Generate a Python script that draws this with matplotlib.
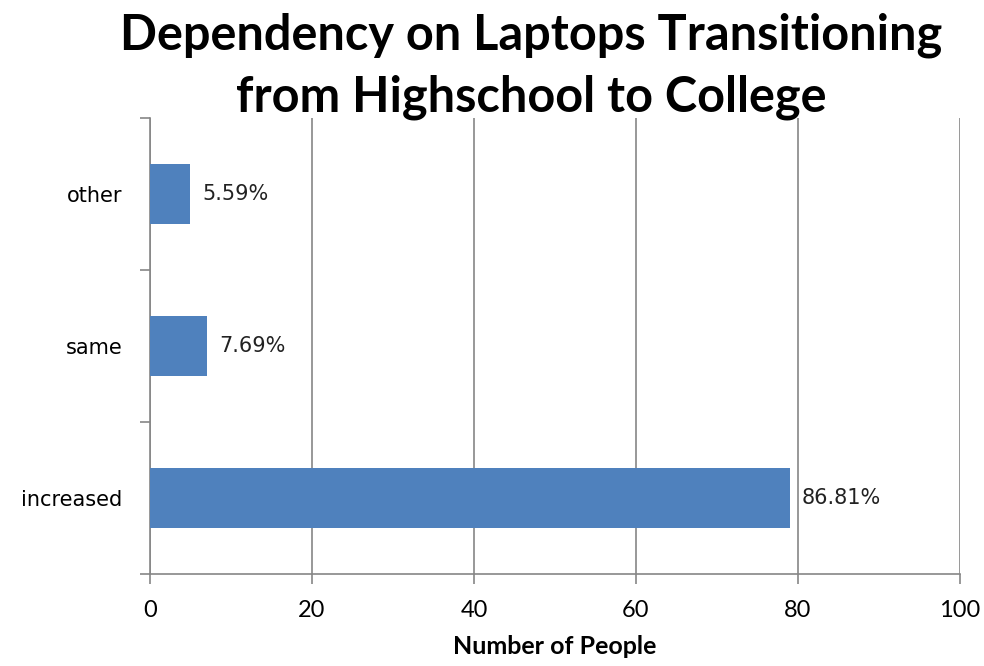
import matplotlib.pyplot as plt

categories = ['increased', 'same', 'other']
counts = [79, 7, 5]
pct_labels = ['86.81%', '7.69%', '5.59%']
x_ticks = [0, 20, 40, 60, 80, 100]
title_lines = ['Dependency on Laptops Transitioning', 'from Highschool to College']

fig = plt.figure(figsize=(9.84, 6.66), dpi=100)
ax = fig.add_axes([0.1524, 0.1381, 0.8232, 0.6847])

pos = list(range(len(categories)))
ax.barh(pos, counts, height=0.4, color='#4F81BD', zorder=3)

for y, v, lab in zip(pos, counts, pct_labels):
    ax.text(v + 1.5, y, lab, va='center', ha='left', fontsize=15,
            family='DejaVu Sans', color='#222222')

ax.set_xlim(0, 100)
ax.set_ylim(-0.5, 2.5)
ax.set_xticks(x_ticks)
ax.set_xticklabels([str(t) for t in x_ticks], family='Lato', fontsize=17)
ax.xaxis.grid(True, color='#868686', linewidth=1.2, zorder=0)

# category labels at band centres, tick marks at band edges
ax.set_yticks(pos)
ax.set_yticklabels(categories, family='DejaVu Sans', fontsize=15)
ax.tick_params(axis='y', length=0, pad=20)
ax.set_yticks([-0.5, 0.5, 1.5, 2.5], minor=True)
ax.tick_params(axis='y', which='minor', length=7, color='#868686', width=1.2)
ax.tick_params(axis='x', length=7, color='#868686', width=1.2, pad=12)

for side in ['top', 'right']:
    ax.spines[side].set_visible(False)
for side in ['left', 'bottom']:
    ax.spines[side].set_color('#868686')
    ax.spines[side].set_linewidth(1.2)

ax.set_xlabel('Number of People', family='Lato', fontweight='bold',
              fontsize=18, labelpad=10)
fig.text(0.54, 0.947, title_lines[0], ha='center', va='center',
         family='Lato', fontweight='bold', fontsize=35)
fig.text(0.54, 0.854, title_lines[1], ha='center', va='center',
         family='Lato', fontweight='bold', fontsize=35)

fig.savefig('out.png')
